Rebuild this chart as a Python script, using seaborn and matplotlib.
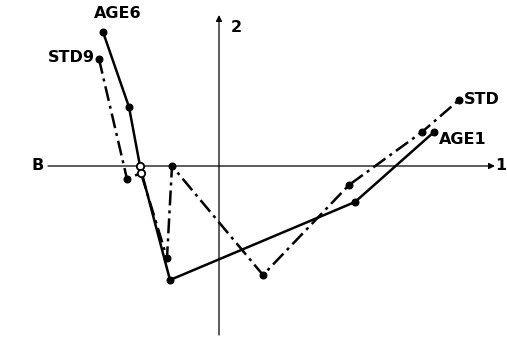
import matplotlib
matplotlib.use("Agg")
import matplotlib.pyplot as plt
import seaborn as sns
import pandas as pd

# Trajectory of the AGE categories (solid line), AGE6 -> AGE1
age_x = [-1.16, -0.90, -0.79, -0.49, 1.36, 2.15]
age_y = [1.34, 0.59, 0.00, -1.14, -0.36, 0.34]

# Trajectory of the STD categories (dash-dot line), STD9 -> STD
std_x = [-1.20, -0.92, -0.78, -0.52, -0.47, 0.44, 1.30, 2.03, 2.40]
std_y = [1.07, -0.13, -0.07, -0.92, 0.00, -1.09, -0.19, 0.34, 0.66]

age_df = pd.DataFrame({"dim1": age_x, "dim2": age_y})
std_df = pd.DataFrame({"dim1": std_x, "dim2": std_y})

sns.set_theme(style="white")
plt.rcParams["font.family"] = ["DejaVu Sans"]

fig = plt.figure(figsize=(5.07, 3.44), dpi=100)
ax = fig.add_axes([0, 0, 1, 1])
ax.set_xlim(-2.19, 2.88)
ax.set_ylim(-1.78, 1.66)
ax.axis("off")

# Coordinate axes with arrowheads
ax.annotate("", xy=(2.76, 0), xytext=(-1.71, 0),
            arrowprops=dict(arrowstyle="-|>", color="black", lw=0.9,
                            mutation_scale=9, shrinkA=0, shrinkB=0))
ax.annotate("", xy=(0, 1.51), xytext=(0, -1.69),
            arrowprops=dict(arrowstyle="-|>", color="black", lw=0.9,
                            mutation_scale=9, shrinkA=0, shrinkB=0))

sns.lineplot(data=age_df, x="dim1", y="dim2", sort=False, ax=ax,
             color="black", lw=1.8, marker="o", markersize=5,
             markeredgecolor="black", estimator=None)
sns.lineplot(data=std_df, x="dim1", y="dim2", sort=False, ax=ax,
             color="black", lw=1.8, marker="o", markersize=5,
             markeredgecolor="black", estimator=None)
ax.get_lines()[-1].set_dashes((6, 2, 1.2, 2))

# Hollow markers where the paths cross the horizontal axis
sns.scatterplot(x=[age_x[2], std_x[2]], y=[age_y[2], std_y[2]], ax=ax,
                s=28, facecolor="white", edgecolor="black", linewidth=1.3,
                zorder=5)

txt = dict(fontsize=11.5, fontweight="bold", color="black")
ax.text(age_x[0] + 0.15, age_y[0] + 0.18, "AGE6", ha="center", va="center", **txt)
ax.text(std_x[0] - 0.04, std_y[0] + 0.02, "STD9", ha="right", va="center", **txt)
ax.text(std_x[-1] + 0.05, std_y[-1], "STD", ha="left", va="center", **txt)
ax.text(age_x[-1] + 0.05, age_y[-1] - 0.07, "AGE1", ha="left", va="center", **txt)
ax.text(-1.81, 0.0, "B", ha="center", va="center", **txt)
ax.text(0.17, 1.38, "2", ha="center", va="center", **txt)
ax.text(2.82, 0.0, "1", ha="center", va="center", **txt)

fig.savefig("out.png", dpi=100)
